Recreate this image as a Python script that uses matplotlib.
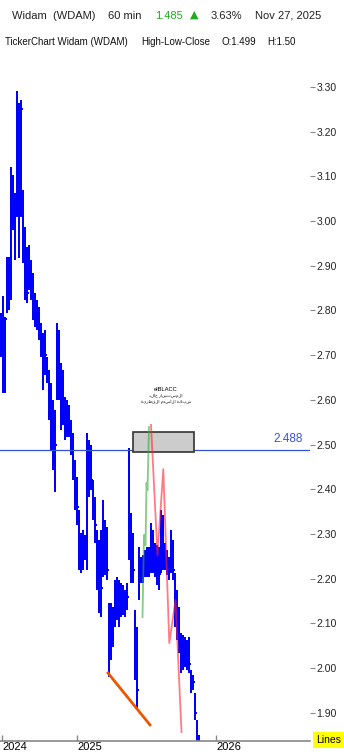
import matplotlib.pyplot as plt
from matplotlib.patches import Rectangle

# 60 min HLC bars (one entry per bar)
highs = [2.794, 2.832, 2.785, 2.920, 2.920, 3.121, 3.103, 3.063, 3.291, 3.264,
         3.271, 3.070, 2.987, 2.942, 2.947, 2.913, 2.884, 2.839, 2.823, 2.808,
         2.772, 2.750, 2.756, 2.696, 2.667, 2.638, 2.600, 2.577, 2.772, 2.756,
         2.683, 2.667, 2.607, 2.600, 2.589, 2.555, 2.526, 2.466, 2.428, 2.354,
         2.302, 2.309, 2.298, 2.526, 2.510, 2.499, 2.421, 2.383, 2.309, 2.287,
         2.309, 2.376, 2.331, 2.316, 2.146, 2.146, 2.137, 2.197, 2.204, 2.197,
         2.190, 2.186, 2.175, 2.190, 2.492, 2.347, 2.302, 2.130, 2.092, 2.271,
         2.249, 2.253, 2.264, 2.271, 2.271, 2.325, 2.309, 2.280, 2.275, 2.271,
         2.354, 2.343, 2.280, 2.264, 2.249, 2.309, 2.287, 2.213, 2.175, 2.137,
         2.079, 2.074, 2.070, 2.063, 2.070, 1.996, 1.985, 1.944, 1.884, 1.850]
lows = [2.696, 2.615, 2.615, 2.794, 2.801, 2.823, 2.980, 2.913, 3.009, 2.917,
        3.009, 2.906, 2.823, 2.817, 2.846, 2.823, 2.779, 2.763, 2.756, 2.734,
        2.696, 2.622, 2.656, 2.638, 2.555, 2.488, 2.443, 2.394, 2.600, 2.600,
        2.533, 2.544, 2.510, 2.517, 2.517, 2.477, 2.421, 2.354, 2.320, 2.220,
        2.213, 2.220, 2.242, 2.220, 2.383, 2.398, 2.331, 2.280, 2.175, 2.123,
        2.114, 2.204, 2.208, 2.197, 1.980, 2.018, 2.047, 2.092, 2.108, 2.092,
        2.114, 2.119, 2.114, 2.130, 2.242, 2.190, 2.190, 1.973, 1.911, 2.152,
        2.190, 2.190, 2.204, 2.204, 2.204, 2.213, 2.213, 2.204, 2.186, 2.175,
        2.213, 2.220, 2.220, 2.208, 2.197, 2.213, 2.197, 2.092, 2.063, 2.034,
        1.989, 1.996, 2.003, 1.996, 1.989, 1.944, 1.951, 1.884, 1.794, 1.480]
closes = [2.750, 2.700, 2.780, 2.880, 2.900, 3.080, 3.000, 3.030, 3.200, 3.050,
          3.250, 2.950, 2.880, 2.840, 2.900, 2.860, 2.800, 2.820, 2.780, 2.760,
          2.720, 2.680, 2.700, 2.660, 2.600, 2.550, 2.520, 2.500, 2.650, 2.620,
          2.580, 2.600, 2.550, 2.560, 2.530, 2.500, 2.460, 2.400, 2.360, 2.280,
          2.250, 2.260, 2.270, 2.450, 2.430, 2.420, 2.370, 2.320, 2.240, 2.200,
          2.180, 2.280, 2.260, 2.220, 2.050, 2.080, 2.100, 2.150, 2.170, 2.140,
          2.160, 2.150, 2.140, 2.160, 2.300, 2.250, 2.220, 2.020, 1.950, 2.200,
          2.220, 2.230, 2.240, 2.230, 2.250, 2.260, 2.240, 2.230, 2.220, 2.210,
          2.280, 2.250, 2.240, 2.230, 2.220, 2.250, 2.220, 2.140, 2.100, 2.070,
          2.030, 2.040, 2.030, 2.020, 2.010, 1.960, 1.970, 1.900, 1.830, 1.485]

year_labels = ['2024', '2025', '2026']
year_pos = [0.5, 38, 107.5]          # bar index where each year starts
y_ticks = [3.30, 3.20, 3.10, 3.00, 2.90, 2.80, 2.70, 2.60, 2.50,
           2.40, 2.30, 2.20, 2.10, 2.00, 1.90]

# drawings on the chart (bar index, price)
orange_x = [53.5, 74.5]
orange_y = [1.989, 1.873]
green_x = [70.75, 71.5, 72.25, 72.75, 73.25, 74.0]
green_y = [2.114, 2.298, 2.275, 2.414, 2.398, 2.539]
red_x = [75.0, 78.25, 81.15, 84.15, 87.25, 90.25]
red_y = [2.544, 2.253, 2.445, 2.056, 2.152, 1.857]
h_level = 2.488
box_x = [65.85, 96.65]
box_y = [2.483, 2.527]

W, H = 344, 754
fig = plt.figure(figsize=(W / 100, H / 100), dpi=100)
fig.patch.set_facecolor('white')
ax = fig.add_axes([0, 13 / H, 310 / W, (741 - 60) / H])

x = list(range(len(highs)))
ax.vlines(x, lows, highs, color='#0000ff', lw=1.1, antialiased=False)
ax.hlines(closes, x, [i + 0.9 for i in x], color='#0000ff', lw=1.1, antialiased=False)

ax.axhline(h_level, color='#3050d8', lw=0.9)
ax.text(151, h_level + 0.012, '2.488', color='#3355dd', fontsize=8.5,
        family='Liberation Sans', ha='right', va='bottom')

ax.add_patch(Rectangle((box_x[0], box_y[0]), box_x[1] - box_x[0], box_y[1] - box_y[0],
                       facecolor='#cccccc', edgecolor='#333333', lw=1.2, zorder=3))
ax.text(82.5, 2.624, 'elBLACC', fontsize=4.2, ha='center', va='center',
        family='Liberation Sans')
ax.text(82.5, 2.609, 'المستشار خالد'[::-1], fontsize=3, ha='center', va='center',
        family='DejaVu Sans')
ax.text(82.5, 2.595, 'شبكة الاسهم القطرية'[::-1], fontsize=3, ha='center', va='center',
        family='DejaVu Sans')

ax.plot(orange_x, orange_y, color='#ee5500', lw=2, zorder=4)
ax.plot(green_x, green_y, color='#33aa33', lw=1.3, alpha=0.6, zorder=4)
ax.plot(red_x, red_y, color='#ff2233', lw=1.3, alpha=0.6, zorder=4)

ax.set_xlim(-0.5, 154.5)
ax.set_ylim(1.837, 3.360)

for s in ['top', 'left', 'right']:
    ax.spines[s].set_visible(False)
ax.spines['bottom'].set_color('#888888')
ax.spines['bottom'].set_linewidth(1.2)

ax.yaxis.tick_right()
ax.set_yticks(y_ticks)
ax.set_yticklabels(['%.2f' % v for v in y_ticks])
ax.tick_params(axis='y', direction='out', length=3.5, width=0.8, color='#888888',
               pad=1, labelsize=7.5, labelcolor='#222222')
for lab in ax.get_yticklabels():
    lab.set_family('Liberation Sans')

ax.set_xticks(year_pos)
ax.set_xticklabels(year_labels)
ax.tick_params(axis='x', direction='in', length=4, width=1, color='#888888',
               pad=1, labelsize=8)
for lab in ax.get_xticklabels():
    lab.set_family('Liberation Sans')
    lab.set_horizontalalignment('left')

# header
def ft(px, py, s, **kw):
    kw.setdefault('family', 'Liberation Sans')
    fig.text(px / W, 1 - py / H, s, va='center', ha='left', **kw)

ft(12, 16, 'Widam  (WDAM)', fontsize=8, color='#222222')
ft(108, 16, '60 min', fontsize=8, color='#222222')
ft(155, 16, '1.485', fontsize=8, color='#22aa22')
ft(190, 15, '▲', fontsize=8, color='#22aa22', family=['DejaVu Sans'])
ft(211, 16, '3.63%', fontsize=8, color='#222222')
ft(255, 16, 'Nov 27, 2025', fontsize=8, color='#222222')
ft(5, 42, 'TickerChart Widam (WDAM)', fontsize=7, color='#111111')
ft(141, 42, 'High-Low-Close', fontsize=7, color='#111111')
ft(222, 42, 'O:1.499', fontsize=7, color='#111111')
ft(267, 42, 'H:1.50', fontsize=7, color='#111111')

fig.text(316 / W, 1 - 740 / H, 'Lines', fontsize=7.5, va='center', ha='left',
         family='Liberation Sans',
         bbox=dict(facecolor='#ffff00', edgecolor='none', pad=2.5))

fig.savefig('out.png', dpi=100)
